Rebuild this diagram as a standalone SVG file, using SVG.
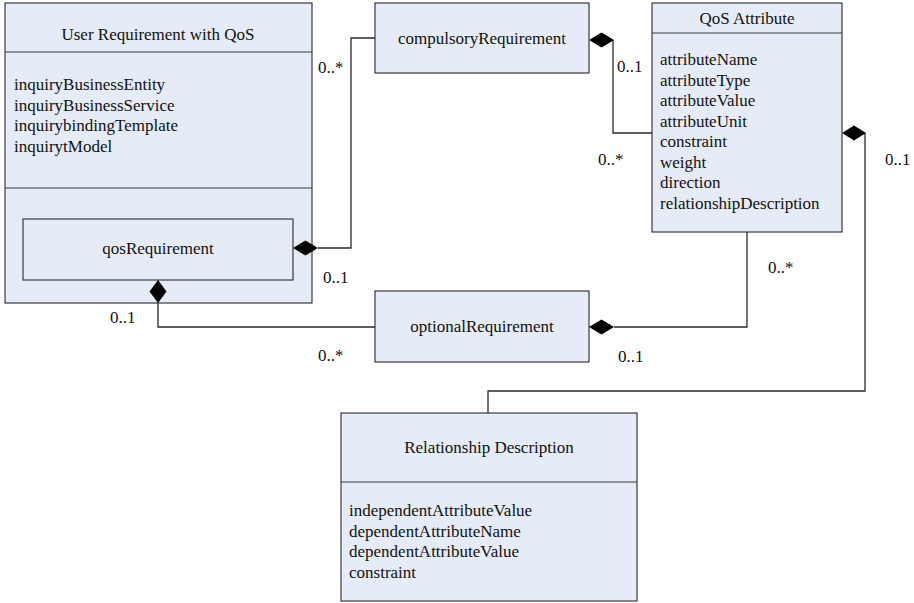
<svg xmlns="http://www.w3.org/2000/svg" width="914" height="603" viewBox="0 0 914 603" font-family="'Liberation Serif', 'Times New Roman', Times, serif" font-size="17">
  <style>
    .box { fill: #e6ecf7; stroke: #3a3a3a; stroke-width: 1.2; }
    .sep { stroke: #3a3a3a; stroke-width: 1.2; fill: none; }
    .wire { stroke: #2a2a2a; stroke-width: 1.3; fill: none; }
    .dia { fill: #000; stroke: none; }
    text { font-family: 'Liberation Serif', 'Times New Roman', Times, serif; font-size: 17px; fill: #111; }
    .c { text-anchor: middle; }
  </style>

  <!-- User Requirement with QoS -->
  <g id="user-requirement">
    <rect class="box" x="5" y="3" width="307" height="300"/>
    <line class="sep" x1="5" y1="52" x2="312" y2="52"/>
    <line class="sep" x1="5" y1="188" x2="312" y2="188"/>
    <text class="c" x="158" y="40">User Requirement with QoS</text>
    <text x="14" y="90">inquiryBusinessEntity</text>
    <text x="14" y="111">inquiryBusinessService</text>
    <text x="14" y="131">inquirybindingTemplate</text>
    <text x="14" y="152">inquirytModel</text>
  </g>

  <!-- qosRequirement -->
  <g id="qos-requirement">
    <rect class="box" x="23" y="219" width="270" height="61"/>
    <text class="c" x="158" y="254">qosRequirement</text>
  </g>

  <!-- compulsoryRequirement -->
  <g id="compulsory-requirement">
    <rect class="box" x="375" y="3" width="214" height="70"/>
    <text class="c" x="482" y="44">compulsoryRequirement</text>
  </g>

  <!-- optionalRequirement -->
  <g id="optional-requirement">
    <rect class="box" x="375" y="291" width="214" height="71"/>
    <text class="c" x="482" y="332">optionalRequirement</text>
  </g>

  <!-- QoS Attribute -->
  <g id="qos-attribute">
    <rect class="box" x="652" y="3" width="190" height="229"/>
    <line class="sep" x1="652" y1="33" x2="842" y2="33"/>
    <text class="c" x="747" y="24">QoS Attribute</text>
    <text x="660" y="65">attributeName</text>
    <text x="660" y="85.5">attributeType</text>
    <text x="660" y="106">attributeValue</text>
    <text x="660" y="126.5">attributeUnit</text>
    <text x="660" y="147">constraint</text>
    <text x="660" y="167.5">weight</text>
    <text x="660" y="188">direction</text>
    <text x="660" y="208.5">relationshipDescription</text>
  </g>

  <!-- Relationship Description -->
  <g id="relationship-description">
    <rect class="box" x="341" y="413" width="296" height="188"/>
    <line class="sep" x1="341" y1="482" x2="637" y2="482"/>
    <text class="c" x="489" y="453">Relationship Description</text>
    <text x="349" y="516">independentAttributeValue</text>
    <text x="349" y="536.5">dependentAttributeName</text>
    <text x="349" y="557">dependentAttributeValue</text>
    <text x="349" y="577.5">constraint</text>
  </g>

  <!-- connectors (drawn last so the composition diamonds sit on top of the boxes) -->
  <g id="connectors">
    <!-- qosRequirement -> compulsoryRequirement -->
    <polyline class="wire" points="318,248 351,248 351,38 375,38"/>
    <polygon class="dia" points="293,248 305.5,240.5 318,248 305.5,255.5"/>
    <!-- qosRequirement -> optionalRequirement -->
    <polyline class="wire" points="158,303 158,327 375,327"/>
    <polygon class="dia" points="158,280 166.5,291.5 158,303 149.5,291.5"/>
    <!-- compulsoryRequirement -> QoS Attribute -->
    <polyline class="wire" points="613,40 613,133 652,133"/>
    <polygon class="dia" points="589,40 601.5,32.5 614,40 601.5,47.5"/>
    <!-- optionalRequirement -> QoS Attribute -->
    <polyline class="wire" points="614,327 747,327 747,232"/>
    <polygon class="dia" points="589,327 601.5,319.5 614,327 601.5,334.5"/>
    <!-- QoS Attribute -> Relationship Description -->
    <polyline class="wire" points="865,133 865,391 488,391 488,413"/>
    <polygon class="dia" points="842,133 854,125.5 866,133 854,140.5"/>

    <!-- multiplicities -->
    <text x="318" y="73">0..*</text>
    <text x="323" y="283">0..1</text>
    <text x="110" y="323">0..1</text>
    <text x="318" y="361">0..*</text>
    <text x="617" y="72">0..1</text>
    <text x="598" y="165">0..*</text>
    <text x="768" y="273">0..*</text>
    <text x="618" y="362">0..1</text>
    <text x="885" y="165">0..1</text>
  </g>
</svg>
